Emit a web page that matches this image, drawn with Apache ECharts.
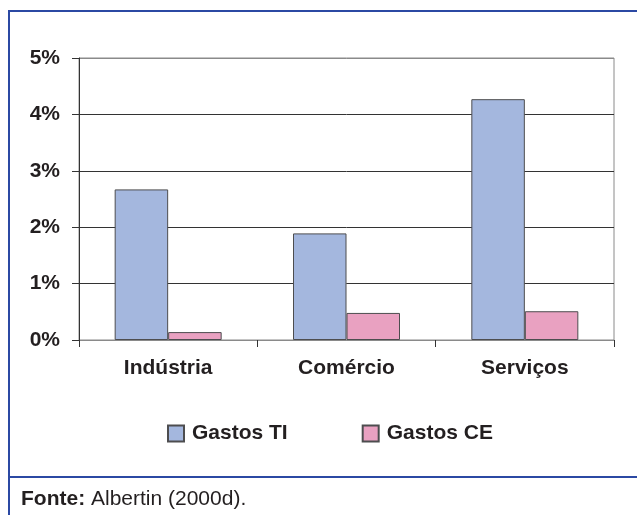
<!DOCTYPE html>
<html>
<head>
<meta charset="utf-8">
<script src="https://cdn.jsdelivr.net/npm/echarts@6/dist/echarts.min.js"></script>
<style>
  html, body { margin: 0; padding: 0; background: #fff; }
  #chart { width: 637px; height: 515px; }
</style>
</head>
<body>
<div id="chart"></div>
<script>
// dados
const setores = ['Indústria', 'Comércio', 'Serviços']
const gastosTI = [2.67, 1.89, 4.27]
const gastosCE = [0.14, 0.48, 0.51]
const fonte = 'Albertin (2000d).'

const font = 'Arial, "Liberation Sans", sans-serif'
const chart = echarts.init(document.getElementById('chart'))

const option = {
  animation: false,
  textStyle: { fontFamily: font },
  grid: {
    left: 79,
    right: 23,
    top: 58,
    bottom: 175,
    show: true,
    borderColor: '#8a8a8a',
    borderWidth: 1
  },
  legend: {
    top: 423,
    left: 167,
    padding: 0,
    itemWidth: 16,
    itemHeight: 16,
    itemGap: 74,
    icon: 'rect',
    textStyle: { fontSize: 21, fontWeight: 'bold', color: '#231f20', fontFamily: font, padding: [0, 0, 0, 3] },
    data: ['Gastos TI', 'Gastos CE']
  },
  xAxis: {
    type: 'category',
    data: setores,
    axisLine: { lineStyle: { color: '#8a8a8a', width: 1 } },
    axisTick: { show: true, length: 7, lineStyle: { color: '#333' } },
    axisLabel: { fontSize: 21, fontWeight: 'bold', color: '#231f20', margin: 18 }
  },
  yAxis: {
    type: 'value',
    min: 0,
    max: 5,
    interval: 1,
    axisLine: { show: true, lineStyle: { color: '#333', width: 1 } },
    axisTick: { show: true, length: 7, lineStyle: { color: '#333' } },
    axisLabel: { formatter: '{value}%', fontSize: 21, fontWeight: 'bold', color: '#231f20', margin: 19 },
    splitLine: { lineStyle: { color: ['#8a8a8a', '#333', '#333', '#333', '#333', '#8a8a8a'], width: 1 } }
  },
  series: [
    {
      name: 'Gastos TI',
      type: 'bar',
      data: gastosTI,
      barGap: '0%',
      barCategoryGap: '40%',
      itemStyle: { color: '#a4b7de', borderColor: '#4d4d4f', borderWidth: 1 }
    },
    {
      name: 'Gastos CE',
      type: 'bar',
      data: gastosCE,
      itemStyle: { color: '#e9a1c1', borderColor: '#4d4d4f', borderWidth: 1 }
    }
  ],
  graphic: [
    // moldura azul
    { type: 'line', shape: { x1: 9, y1: 11, x2: 637, y2: 11 }, style: { stroke: '#2b49a3', lineWidth: 2 } },
    { type: 'line', shape: { x1: 9, y1: 10, x2: 9, y2: 515 }, style: { stroke: '#2b49a3', lineWidth: 2 } },
    { type: 'line', shape: { x1: 9, y1: 477, x2: 637, y2: 477 }, style: { stroke: '#2b49a3', lineWidth: 2 } },
    {
      type: 'text',
      left: 21,
      top: 489,
      style: {
        text: '{b|Fonte:} ' + fonte,
        font: '21px ' + font,
        fill: '#231f20',
        rich: {
          b: { fontWeight: 'bold', fontSize: 21, fontFamily: font, fill: '#231f20' }
        }
      }
    }
  ]
}

chart.setOption(option)
</script>
</body>
</html>
